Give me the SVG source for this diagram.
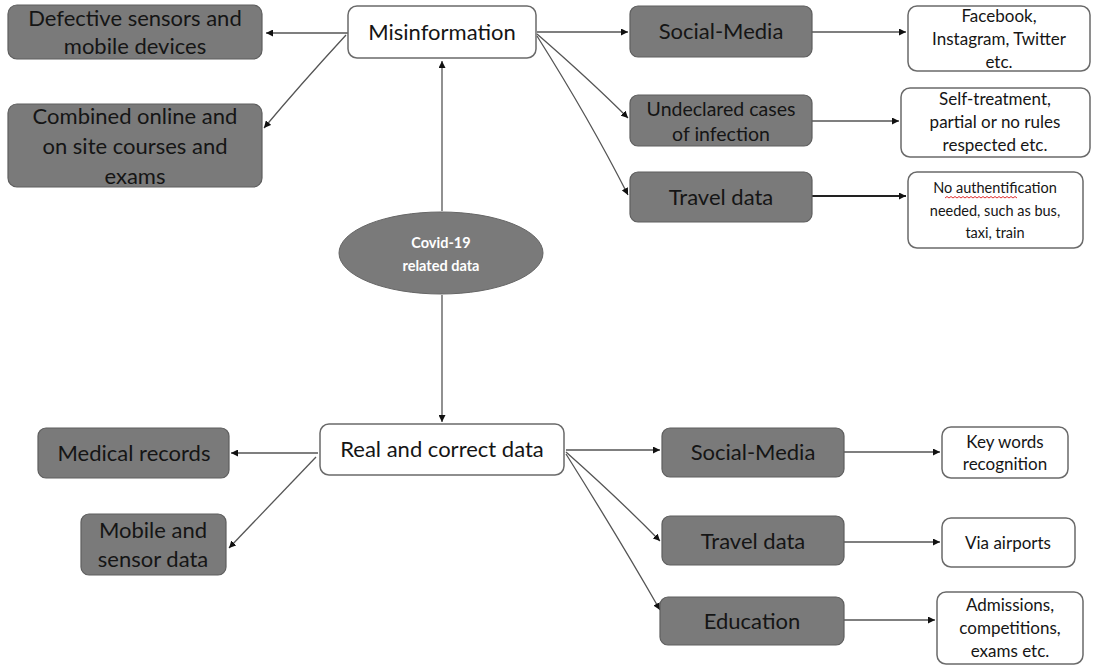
<svg xmlns="http://www.w3.org/2000/svg" width="1094" height="665" viewBox="0 0 1094 665">
<style>
.g{fill:#7a7a7a;stroke:#5e5e5e;stroke-width:1.2}
.w{fill:#fff;stroke:#6a6a6a;stroke-width:1.5}
.t{font-family:Lato,"Open Sans","Liberation Sans",sans-serif;fill:#151515;text-anchor:middle}
.L{font-size:22px}
.M{font-size:17px}
.S{font-size:14.5px}
.c{fill:none;stroke:#555;stroke-width:1.3}
</style>
<defs>
<marker id="a" viewBox="0 0 10 10" refX="10" refY="5" markerWidth="7" markerHeight="7" markerUnits="userSpaceOnUse" orient="auto"><path d="M0,0 L10,5 L0,10 z" fill="#111"/></marker>
</defs>
<g id="connectors">
<path class="c" d="M348,33 L266,33" marker-end="url(#a)"/>
<path class="c" d="M346,35 Q300,85 264,128" marker-end="url(#a)"/>
<path class="c" d="M537,32 L628,32" marker-end="url(#a)"/>
<path class="c" d="M537,34 Q590,80 628,118" marker-end="url(#a)"/>
<path class="c" d="M537,36 Q590,120 628,195" marker-end="url(#a)"/>
<path class="c" d="M812,32 L906,32" marker-end="url(#a)"/>
<path class="c" d="M812,121 L899,121" marker-end="url(#a)"/>
<path class="c" d="M812,196 L906,196" style="stroke-width:2;stroke:#222" marker-end="url(#a)"/>
<path class="c" d="M442,211 L442,61" marker-end="url(#a)"/>
<path class="c" d="M442,295 L442,422" marker-end="url(#a)"/>
<path class="c" d="M318,453 L231,453" marker-end="url(#a)"/>
<path class="c" d="M316,457 L229,548" marker-end="url(#a)"/>
<path class="c" d="M566,450 L660,450" marker-end="url(#a)"/>
<path class="c" d="M566,452 Q620,500 660,541" marker-end="url(#a)"/>
<path class="c" d="M566,454 Q620,540 660,610" marker-end="url(#a)"/>
<path class="c" d="M844,452 L940,452" marker-end="url(#a)"/>
<path class="c" d="M844,542 L940,542" marker-end="url(#a)"/>
<path class="c" d="M844,620 L935,620" marker-end="url(#a)"/>
</g>
<g id="defective"><rect class="g" x="8" y="5" width="254" height="54" rx="9"/><text class="t L" x="135" y="26">Defective sensors and</text><text class="t L" x="135" y="54">mobile devices</text></g>
<g id="misinformation"><rect class="w" x="348" y="6" width="188" height="52" rx="9"/><text class="t L" x="442" y="40">Misinformation</text></g>
<g id="combined"><rect class="g" x="8" y="104" width="254" height="83" rx="9"/><text class="t L" x="135" y="124">Combined online and</text><text class="t L" x="135" y="154">on site courses and</text><text class="t L" x="135" y="184">exams</text></g>
<g id="social-top"><rect class="g" x="630" y="6" width="182" height="51" rx="8"/><text class="t L" x="721" y="39">Social-Media</text></g>
<g id="facebook"><rect class="w" x="908" y="6" width="182" height="65" rx="9"/><text class="t M" x="999" y="22">Facebook,</text><text class="t M" x="999" y="45">Instagram, Twitter</text><text class="t M" x="999" y="68">etc.</text></g>
<g id="undeclared"><rect class="g" x="630" y="95" width="182" height="51" rx="8"/><text class="t" x="721" y="116" style="font-size:19.5px">Undeclared cases</text><text class="t" x="721" y="141" style="font-size:19.5px">of infection</text></g>
<g id="selftreatment"><rect class="w" x="901" y="88" width="189" height="69" rx="9"/><text class="t M" x="995" y="105">Self-treatment,</text><text class="t M" x="995" y="128">partial or no rules</text><text class="t M" x="995" y="151">respected etc.</text></g>
<g id="travel-top"><rect class="g" x="630" y="172" width="182" height="50" rx="8"/><text class="t L" x="721" y="205">Travel data</text></g>
<g id="noauth"><rect class="w" x="908" y="172" width="175" height="76" rx="9"/><text class="t S" x="995" y="193">No authentification</text><path d="M945,198 l2,-1.5 l2,1.5 l2,-1.5 l2,1.5 l2,-1.5 l2,1.5 l2,-1.5 l2,1.5 l2,-1.5 l2,1.5 l2,-1.5 l2,1.5 l2,-1.5 l2,1.5 l2,-1.5 l2,1.5 l2,-1.5 l2,1.5 l2,-1.5 l2,1.5 l2,-1.5 l2,1.5 l2,-1.5 l2,1.5 l2,-1.5 l2,1.5 l2,-1.5 l2,1.5 l2,-1.5 l2,1.5 l2,-1.5 l2,1.5 l2,-1.5 l2,1.5 l2,-1.5 l2,1.5" fill="none" stroke="#e03030" stroke-width="1"/><text class="t S" x="995" y="216">needed, such as bus,</text><text class="t S" x="995" y="238">taxi, train</text></g>
<g id="covid"><ellipse cx="441" cy="253" rx="102" ry="41" fill="#7a7a7a" stroke="#666" stroke-width="1"/><text class="t" x="441" y="248" style="font-size:14.5px;font-weight:bold;fill:#fff">Covid-19</text><text class="t" x="441" y="271" style="font-size:14.5px;font-weight:bold;fill:#fff">related data</text></g>
<g id="real"><rect class="w" x="320" y="424" width="244" height="51" rx="9"/><text class="t L" x="442" y="457">Real and correct data</text></g>
<g id="medical"><rect class="g" x="38" y="428" width="191" height="50" rx="8"/><text class="t L" x="134" y="461">Medical records</text></g>
<g id="mobile"><rect class="g" x="81" y="514" width="145" height="61" rx="8"/><text class="t L" x="153" y="538">Mobile and</text><text class="t L" x="153" y="567">sensor data</text></g>
<g id="social-bottom"><rect class="g" x="662" y="428" width="182" height="49" rx="8"/><text class="t L" x="753" y="460">Social-Media</text></g>
<g id="keywords"><rect class="w" x="942" y="427" width="126" height="51" rx="9"/><text class="t M" x="1005" y="448">Key words</text><text class="t M" x="1005" y="470">recognition</text></g>
<g id="travel-bottom"><rect class="g" x="662" y="516" width="182" height="49" rx="8"/><text class="t L" x="753" y="549">Travel data</text></g>
<g id="airports"><rect class="w" x="942" y="518" width="133" height="49" rx="9"/><text class="t M" x="1008" y="549">Via airports</text></g>
<g id="education"><rect class="g" x="660" y="597" width="184" height="48" rx="8"/><text class="t L" x="752" y="629">Education</text></g>
<g id="admissions"><rect class="w" x="937" y="592" width="146" height="72" rx="9"/><text class="t M" x="1010" y="611">Admissions,</text><text class="t M" x="1010" y="634">competitions,</text><text class="t M" x="1010" y="657">exams etc.</text></g>
</svg>
